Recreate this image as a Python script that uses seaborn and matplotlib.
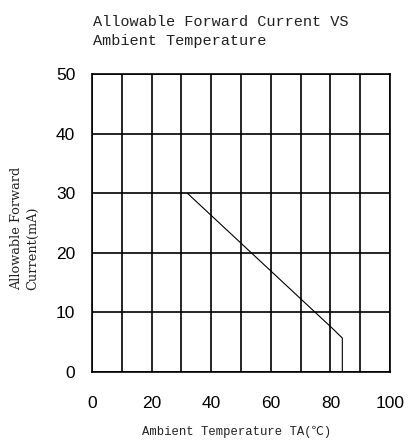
import matplotlib
matplotlib.use("Agg")
import matplotlib.pyplot as plt
import seaborn as sns
import pandas as pd

# Data
temp_c = [32, 80.5, 84, 84]
current_ma = [30, 7.4, 5.7, 0]
x_ticks = [0, 20, 40, 60, 80, 100]
y_ticks = [0, 10, 20, 30, 40, 50]
x_grid = [0, 10, 20, 30, 40, 50, 60, 70, 80, 90, 100]
y_grid = [0, 10, 20, 30, 40, 50]

title = "Allowable Forward Current VS\nAmbient Temperature"
xlabel = "Ambient Temperature TA(℃)"
ylabel = "Allowable Forward\nCurrent(mA)"

sns.set_style("white")
plt.rcParams['font.family'] = ['Liberation Sans', 'DejaVu Sans']

fig = plt.figure(figsize=(4.09, 4.44), dpi=100)
ax = fig.add_axes([92/409, 72/444, 298/409, 298/444])

df = pd.DataFrame({"temp": temp_c, "current": current_ma})
sns.lineplot(data=df, x="temp", y="current", sort=False, estimator=None,
             color="black", linewidth=0.8, ax=ax)

ax.set_xlim(0, 100)
ax.set_ylim(0, 50)
ax.set_xticks(x_grid, minor=True)
ax.set_yticks(y_grid, minor=True)
ax.set_xticks(x_ticks)
ax.set_yticks(y_ticks)
ax.grid(True, which='both', color='black', linewidth=1.2)
ax.set_axisbelow(True)
for s in ax.spines.values():
    s.set_color('black')
    s.set_linewidth(1.2)
ax.tick_params(axis='both', which='both', length=0, labelsize=12.5, colors='black')
ax.tick_params(axis='x', pad=17)
ax.tick_params(axis='y', pad=12)
ax.set_xlabel("")
ax.set_ylabel("")

mono = ['Liberation Mono', 'Noto Sans CJK SC', 'DejaVu Sans']
fig.text(93/409, 1 - 15/444, title, ha='left', va='top', fontsize=11,
         family=mono, linespacing=1.5, color='#222222')
fig.text(237/409, 1 - 432/444, xlabel, ha='center', va='center', fontsize=8.8,
         family=mono, color='#222222')
fig.text(25/409, 1 - 228/444, ylabel, ha='center', va='center', rotation=90,
         multialignment='left', fontsize=9.3, family=['DejaVu Serif'],
         linespacing=1.3, color='#222222')

fig.savefig("out.png", dpi=100)
